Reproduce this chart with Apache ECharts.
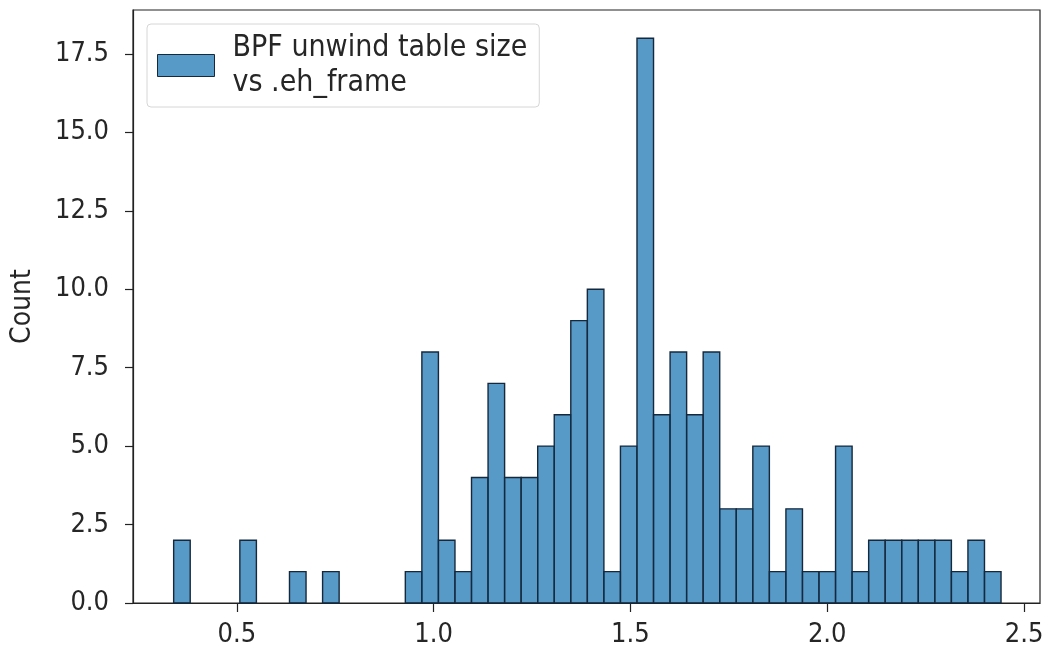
<!DOCTYPE html>
<html>
<head>
<meta charset="utf-8">
<script src="https://cdn.jsdelivr.net/npm/echarts@6/dist/echarts.min.js"></script>
<style>
  html, body { margin: 0; padding: 0; background: #fff; }
  #chart { width: 1047px; height: 650px; }
</style>
</head>
<body>
<div id="chart"></div>
<script>
// Histogram definition (50 equal-width bins)
const binStart = 0.3396;
const binWidth = 0.04204;
const counts = [
  2, 0, 0, 0, 2, 0, 0, 1, 0, 1,
  0, 0, 0, 0, 1, 8, 2, 1, 4, 7,
  4, 4, 5, 6, 9, 10, 1, 5, 18, 6,
  8, 6, 8, 3, 3, 5, 1, 3, 1, 1,
  5, 1, 2, 2, 2, 2, 2, 1, 2, 1
];
const xTicks = [0.5, 1.0, 1.5, 2.0, 2.5];
const yTicks = [0, 2.5, 5, 7.5, 10, 12.5, 15, 17.5];
const seriesName = 'BPF unwind table size vs .eh_frame';

const histData = [];
counts.forEach(function (c, i) {
  if (c > 0) {
    const x0 = binStart + i * binWidth;
    histData.push([x0, x0 + binWidth, c]);
  }
});

const FONT = '"DejaVu Sans Condensed", "DejaVu Sans", sans-serif';
const TEXT = '#262626';
const FILL = 'rgba(31,119,180,0.75)';
const EDGE = '#16293c';

const chart = echarts.init(document.getElementById('chart'), null, { renderer: 'canvas' });
chart.setOption({
  animation: false,
  backgroundColor: '#fff',
  grid: {
    left: 133, right: 7, top: 10, bottom: 47,
    show: true, borderColor: '#222', borderWidth: 1.2, backgroundColor: '#fff'
  },
  legend: {
    left: 147, top: 24,
    orient: 'vertical',
    padding: [7, 12, 7, 10],
    backgroundColor: 'rgba(255,255,255,0.8)',
    borderColor: '#d6d6d6', borderWidth: 1, borderRadius: 4,
    itemWidth: 57, itemHeight: 22,
    data: [{ name: seriesName, icon: 'rect' }],
    itemStyle: { color: FILL, borderColor: EDGE, borderWidth: 1 },
    formatter: function () { return 'BPF unwind table size\nvs .eh_frame'; },
    textStyle: {
      fontFamily: FONT, fontSize: 30, color: TEXT, lineHeight: 34.5,
      padding: [0, 0, 0, 13]
    }
  },
  xAxis: {
    type: 'value',
    min: 0.2363, max: 2.5406,
    axisLine: { show: true, onZero: false, lineStyle: { color: '#222', width: 1.2 } },
    axisTick: { show: true, length: 9, customValues: xTicks, lineStyle: { color: '#222', width: 1.2 } },
    axisLabel: {
      customValues: xTicks,
      formatter: function (v) { return v.toFixed(1); },
      fontFamily: FONT, fontSize: 27, color: TEXT, margin: 18
    },
    splitLine: { show: false }
  },
  yAxis: {
    type: 'value',
    min: 0, max: 18.9,
    name: 'Count',
    nameLocation: 'middle',
    nameGap: 96,
    nameRotate: 90,
    nameTextStyle: { fontFamily: FONT, fontSize: 28, color: TEXT },
    axisLine: { show: true, lineStyle: { color: '#222', width: 1.2 } },
    axisTick: { show: true, length: 8, customValues: yTicks, lineStyle: { color: '#222', width: 1.2 } },
    axisLabel: {
      customValues: yTicks,
      formatter: function (v) { return v.toFixed(1); },
      fontFamily: FONT, fontSize: 27, color: TEXT, margin: 24
    },
    splitLine: { show: false }
  },
  series: [{
    name: seriesName,
    type: 'custom',
    data: histData,
    encode: { x: [0, 1], y: 2 },
    itemStyle: { color: FILL, borderColor: EDGE, borderWidth: 1 },
    renderItem: function (params, api) {
      const p0 = api.coord([api.value(0), 0]);
      const p1 = api.coord([api.value(1), api.value(2)]);
      return {
        type: 'rect',
        shape: { x: p0[0], y: p1[1], width: p1[0] - p0[0], height: p0[1] - p1[1] },
        style: { fill: FILL, stroke: EDGE, lineWidth: 1.4 }
      };
    }
  }]
});
</script>
</body>
</html>
